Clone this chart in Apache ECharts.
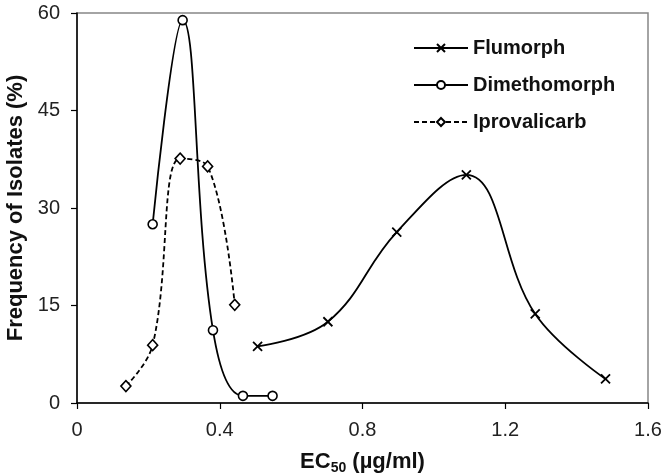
<!DOCTYPE html>
<html lang="en">

<head>
  <meta charset="UTF-8">
  <title>EC50 frequency</title>
  <script src="https://cdn.jsdelivr.net/npm/echarts@6/dist/echarts.min.js"></script>
</head>

<body style="margin: 0;">
  <div id="chart" style="width: 667px;height: 476px;"></div>
  <script>
    const myEcharts = echarts.init(document.getElementById('chart'))

    // values
    const flumorphX = [0.506, 0.703, 0.896, 1.091, 1.284, 1.481]
    const flumorphY = [8.7, 12.5, 26.3, 35.1, 13.7, 3.7]
    const dimethomorphX = [0.212, 0.296, 0.381, 0.465, 0.548]
    const dimethomorphY = [27.5, 58.9, 11.2, 1.1, 1.1]
    const iprovalicarbX = [0.137, 0.212, 0.289, 0.366, 0.442]
    const iprovalicarbY = [2.6, 8.9, 37.6, 36.4, 15.1]

    const font = "'Liberation Sans', Arial, sans-serif"
    const pair = (xs, ys) => xs.map((x, i) => [x, ys[i]])

    const option = {
      animation: false,
      textStyle: { fontFamily: font },
      grid: {
        left: 77, right: 19, top: 13, bottom: 73,
        outerBoundsMode: 'none',
        containLabel: false,
        show: true,
        borderColor: '#868686',
        borderWidth: 1.5
      },
      legend: {
        orient: 'vertical',
        left: 408,
        top: 33,
        itemWidth: 54,
        itemHeight: 10,
        itemGap: 17,
        textStyle: { fontSize: 20, fontWeight: 'bold', color: '#111', lineHeight: 20, fontFamily: font },
        data: ['Flumorph', 'Dimethomorph', 'Iprovalicarb']
      },
      xAxis: {
        type: 'value',
        min: 0,
        max: 1.6,
        interval: 0.4,
        name: '{a|EC}{b|50}{a| (µg/ml)}',
        nameLocation: 'middle',
        nameGap: 46,
        nameTextStyle: {
          rich: {
            a: { fontSize: 22, fontWeight: 'bold', color: '#111', fontFamily: font },
            b: { fontSize: 14, fontWeight: 'bold', color: '#111', fontFamily: font, padding: [12, 0, 0, 0] }
          }
        },
        axisLine: { lineStyle: { color: '#000', width: 1.5 } },
        axisTick: { inside: false, length: 6, lineStyle: { color: '#000', width: 1.2 } },
        axisLabel: { fontSize: 20, color: '#222', margin: 17, fontFamily: font },
        splitLine: { show: false }
      },
      yAxis: {
        type: 'value',
        min: 0,
        max: 60,
        interval: 15,
        name: 'Frequency of Isolates (%)',
        nameLocation: 'middle',
        nameGap: 48,
        nameTextStyle: { fontSize: 22, fontWeight: 'bold', color: '#111', fontFamily: font },
        axisLine: { lineStyle: { color: '#000', width: 1.5 } },
        axisTick: { length: 6, lineStyle: { color: '#000', width: 1.2 } },
        axisLabel: { fontSize: 20, color: '#222', margin: 17, fontFamily: font },
        splitLine: { show: false }
      },
      series: [
        {
          type: 'line',
          name: 'Flumorph',
          data: pair(flumorphX, flumorphY),
          smooth: 0.4,
          symbol: 'path://M0,0L10,10M10,0L0,10',
          symbolSize: 9,
          lineStyle: { color: '#000', width: 1.8 },
          itemStyle: { color: 'transparent', borderColor: '#000', borderWidth: 1.8 }
        },
        {
          type: 'line',
          name: 'Dimethomorph',
          data: pair(dimethomorphX, dimethomorphY),
          smooth: 0.4,
          symbol: 'circle',
          symbolSize: 9,
          lineStyle: { color: '#000', width: 1.8 },
          itemStyle: { color: '#fff', borderColor: '#000', borderWidth: 1.6 }
        },
        {
          type: 'line',
          name: 'Iprovalicarb',
          data: pair(iprovalicarbX, iprovalicarbY),
          smooth: 0.4,
          symbol: 'diamond',
          symbolSize: [10, 11],
          lineStyle: { color: '#000', width: 1.8, type: [5, 3] },
          itemStyle: { color: '#fff', borderColor: '#000', borderWidth: 1.6 }
        }
      ]
    }

    myEcharts.setOption(option)
  </script>
</body>

</html>
